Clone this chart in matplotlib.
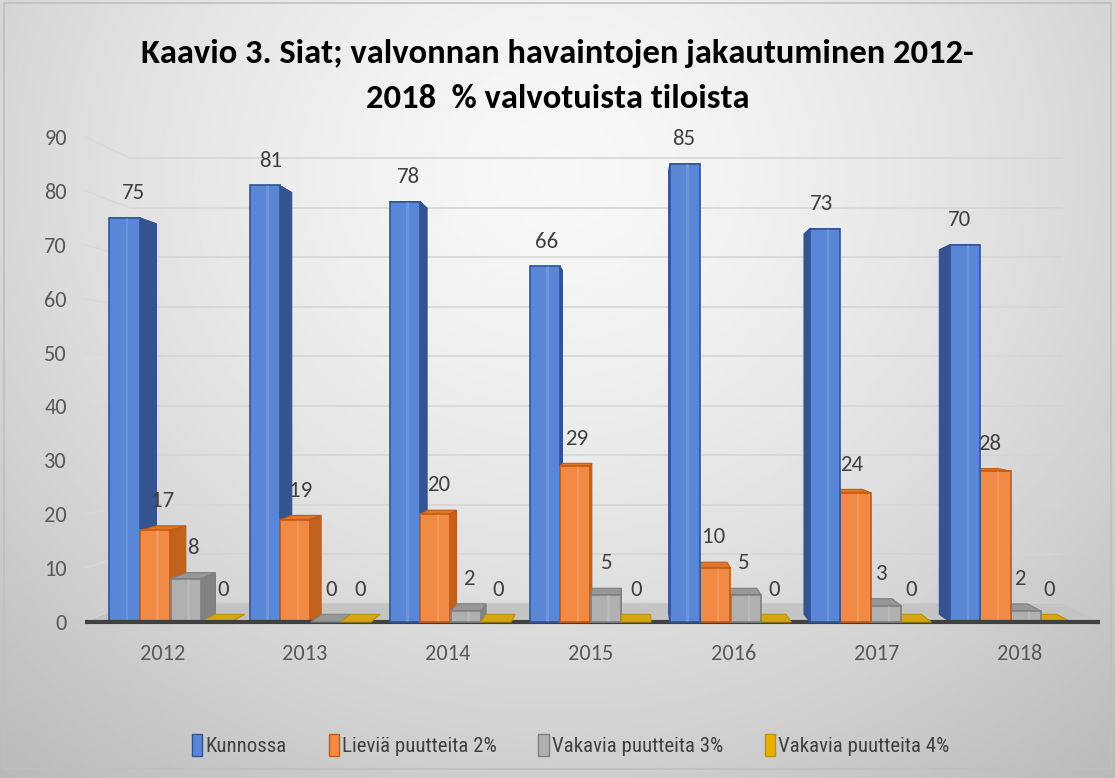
import numpy as np
import matplotlib.pyplot as plt
from matplotlib.patches import Polygon, Patch, Rectangle

plt.rcParams['font.family'] = ['Carlito', 'DejaVu Sans']
LEG_FONT = ['Roboto Condensed', 'PT Sans Narrow', 'DejaVu Sans']

years = ['2012', '2013', '2014', '2015', '2016', '2017', '2018']
series = ['Kunnossa', 'Lieviä puutteita 2%', 'Vakavia puutteita 3%', 'Vakavia puutteita 4%']
kunnossa = [75, 81, 78, 66, 85, 73, 70]
lievia = [17, 19, 20, 29, 10, 24, 28]
vakavia3 = [8, 0, 2, 5, 5, 3, 2]
vakavia4 = [0, 0, 0, 0, 0, 0, 0]
values = [kunnossa, lievia, vakavia3, vakavia4]

# front, side, top, edge colours per series
front = ['#5A86D6', '#F08A45', '#B0B0B0', '#E6B000']
side = ['#34538F', '#C2621F', '#828282', '#B08800']
top = ['#6F97E0', '#E0752A', '#979797', '#D4A514']
edge = ['#2F5597', '#C55A11', '#7F7F7F', '#BF9000']

# simple perspective toward a vanishing point
cx, cy = 3.3, 42.0
s_front, s_back, s_wall = 0.98, 0.966, 0.918
offsets = [-0.336, -0.119, 0.10, 0.315]
w = 0.215

def fx(x):
    return cx + (x - cx) * s_front

def back(x, y, s=s_back):
    return (cx + (x - cx) * s, cy + (y - cy) * s)

fig = plt.figure(figsize=(11.15, 7.78), dpi=100)

# background gradient
bg = fig.add_axes([0, 0, 1, 1], zorder=-10)
yy, xx = np.mgrid[0:1:300j, 0:1:400j]
r = np.sqrt(((xx - 0.5) / 0.72) ** 2 + ((yy - 0.22) / 0.95) ** 2)
img = np.clip(0.97 - 0.22 * r ** 1.5, 0, 1)
bg.imshow(img, cmap='gray', vmin=0, vmax=1, aspect='auto', extent=[0, 1, 1, 0])
bg.add_patch(Rectangle((0.004, 0.004), 0.992, 0.985, fill=False, ec='#BFBFBF', lw=1.2))
bg.set_xlim(0, 1); bg.set_ylim(1, 0); bg.axis('off')

ax = fig.add_axes([85/1115, (778-622)/778, 1015/1115, 485/778])
ax.patch.set_alpha(0)
ax.set_xlim(-0.54, 6.56)
ax.set_ylim(0, 90)

# back wall gridlines + left wall lines
xl, xr = -0.54, 6.56
for g in range(0, 100, 10):
    (bx0, by), (bx1, _) = back(xl, g, s_wall), back(xr, g, s_wall)
    ax.plot([bx0, bx1], [by, by], color='#D4D4D4', lw=1.1, zorder=1, clip_on=False)
    ax.plot([xl, bx0], [g, by], color='#D8D8D8', lw=0.9, zorder=1, clip_on=False)

# floor
fl = [(xl, 0), (xr, 0), back(xr, 0, s_wall), back(xl, 0, s_wall)]
ax.add_patch(Polygon(fl, closed=True, fc='#C4C4C4', ec='none', zorder=2, clip_on=False))
ax.plot([xl, xr], [0, 0], color='#404040', lw=3, zorder=50, clip_on=False, solid_capstyle='butt')

bars = []
for k in range(4):
    for i in range(len(years)):
        c = i + offsets[k]
        bars.append((abs(fx(c) - cx), k, i, c))
bars.sort(key=lambda b: -b[0])

z = 10
for _, k, i, c in bars:
    v = values[k][i]
    x0, x1 = fx(c - w / 2), fx(c + w / 2)
    tp = [(x0, v), (x1, v), back(x1, v), back(x0, v)]
    ex = x1 if fx(c) < cx else x0
    sd = [(ex, 0), (ex, v), back(ex, v), back(ex, 0)]
    ax.add_patch(Polygon(tp, closed=True, fc=top[k], ec=edge[k], lw=0.8, zorder=z, clip_on=False))
    ax.add_patch(Polygon(sd, closed=True, fc=side[k], ec=edge[k], lw=0.8, zorder=z + 1, clip_on=False))
    if v > 0:
        ax.add_patch(Rectangle((x0, 0), x1 - x0, v, fc=front[k], ec=edge[k], lw=1.2,
                               zorder=z + 2, clip_on=False))
        ax.add_patch(Rectangle((x0 + (x1 - x0) * 0.55, 0), (x1 - x0) * 0.08, v,
                               fc='white', ec='none', alpha=0.12, zorder=z + 3, clip_on=False))
    z += 4
    lx = (fx(c) + back(fx(c), 0)[0]) / 2
    ly = max(v, back(0, v)[1]) + 4.6
    ax.text(lx, ly, str(v), ha='center', va='center', fontsize=16.5,
            color='#404040', zorder=200)

ax.set_xticks(range(len(years)))
ax.set_xticklabels(years)
ax.set_yticks(range(0, 100, 10))
ax.tick_params(length=0, labelsize=16, labelcolor='#595959')
ax.tick_params(axis='x', pad=16)
ax.tick_params(axis='y', pad=13)
for sp in ax.spines.values():
    sp.set_visible(False)

fig.text(0.5, 1 - 53/778, 'Kaavio 3. Siat; valvonnan havaintojen jakautuminen 2012-',
         ha='center', va='center', fontsize=24.8, fontweight='bold', color='black')
fig.text(0.5, 1 - 99/778, '2018  % valvotuista tiloista',
         ha='center', va='center', fontsize=24.8, fontweight='bold', color='black')

handles = [Patch(fc=front[k], ec=edge[k], lw=1) for k in range(4)]
fig.legend(handles, series, loc='center', bbox_to_anchor=(0.512, 1 - 745/778), ncol=4,
           frameon=False, handlelength=0.5, handleheight=1.2,
           handletextpad=0.15, columnspacing=2.0, labelcolor='#404040',
           prop={'family': LEG_FONT, 'size': 15})

fig.savefig('out.png', dpi=100)
